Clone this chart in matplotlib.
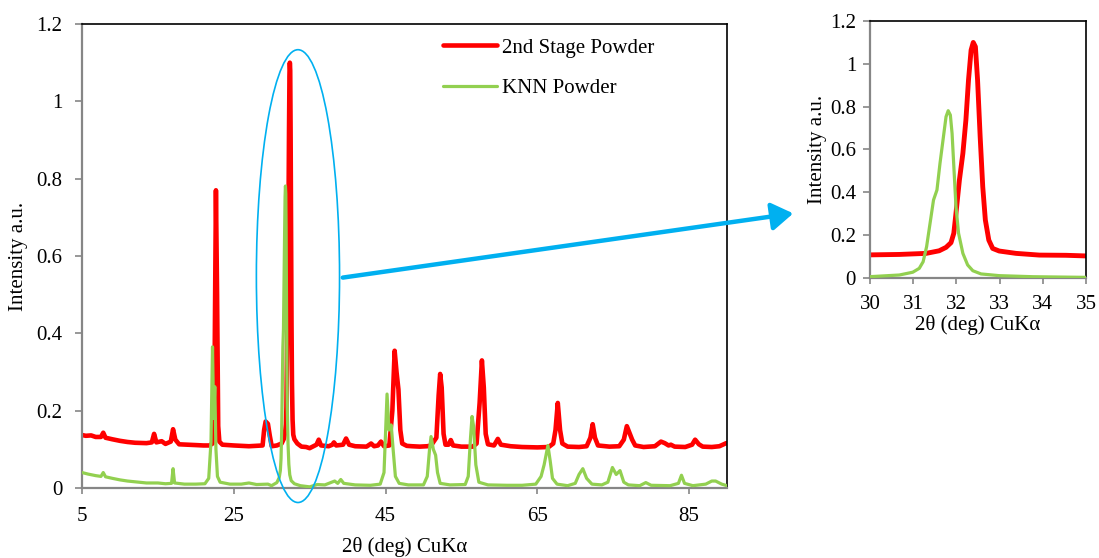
import matplotlib
matplotlib.use("Agg")
import matplotlib.pyplot as plt
from matplotlib.patches import Ellipse, FancyArrowPatch

plt.rcParams["font.family"] = ["Liberation Serif", "DejaVu Serif"]

# XRD traces: 2-theta (deg) and intensity (a.u.)
stage2_tt = [5.0, 5.5, 6.2, 6.8, 7.5, 7.8, 8.1, 9.0, 10.0, 11.0, 12.0, 13.5, 14.2, 14.5, 14.8,
             15.5, 16.0, 16.7, 17.0, 17.3, 17.8, 19.0, 20.0, 21.0, 21.8, 22.2, 22.45, 22.65,
             22.8, 22.95, 23.1, 23.5, 25.0, 27.0, 28.8, 29.0, 29.2, 29.5, 29.75, 30.0, 30.68,
             31.30, 31.60, 31.76, 31.875, 31.94, 31.99, 32.07, 32.15, 32.22, 32.28, 32.34,
             32.39, 32.44, 32.49, 32.55, 32.61, 32.67, 32.75, 32.84, 32.99, 33.38, 33.92,
             34.54, 35.0, 35.5, 35.9, 36.2, 36.5,
             37.5, 38.0, 38.2, 38.5, 39.4, 39.8, 40.2, 41.0, 42.5, 43.1, 43.5, 44.0, 44.4,
             44.8, 45.5, 45.9, 46.2, 46.45, 46.7, 46.95, 47.2, 47.8, 48.5, 49.5, 50.5, 51.0,
             51.7, 52.0, 52.2, 52.4, 52.65, 52.9, 53.3, 53.6, 53.9, 55.0, 56.5, 57.0, 57.4,
             57.7, 57.95, 58.2, 58.5, 59.3, 59.8, 60.2, 61.5, 63.0, 65.0, 66.5, 67.1, 67.4,
             67.7, 68.0, 68.3, 69.0, 70.5, 71.5, 72.0, 72.3, 72.6, 73.0, 74.5, 75.8, 76.4,
             76.8, 77.2, 77.5, 77.9, 79.0, 80.5, 81.3, 81.8, 82.3, 82.6, 83.1, 84.5, 85.4,
             85.8, 86.3, 86.8, 88.0, 89.0, 89.9]
stage2_int = [0.137, 0.135, 0.136, 0.132, 0.132, 0.143, 0.130, 0.126, 0.122, 0.119, 0.117,
              0.116, 0.118, 0.140, 0.118, 0.121, 0.114, 0.120, 0.152, 0.125, 0.113, 0.112,
              0.111, 0.110, 0.110, 0.115, 0.250, 0.770, 0.500, 0.160, 0.120, 0.112, 0.110,
              0.108, 0.110, 0.150, 0.172, 0.166, 0.135, 0.108, 0.110,
              0.115, 0.127, 0.143, 0.165, 0.209, 0.302, 0.458, 0.582, 0.738, 0.924, 1.064,
              1.100, 1.080, 0.924, 0.660, 0.426, 0.271, 0.177, 0.138, 0.126, 0.115, 0.107,
              0.106, 0.103, 0.108, 0.112, 0.125, 0.110,
              0.108, 0.112, 0.118, 0.110, 0.112, 0.128, 0.112, 0.108, 0.107, 0.115, 0.108,
              0.110, 0.120, 0.108, 0.110, 0.200, 0.355, 0.300, 0.255, 0.150, 0.115, 0.109,
              0.108, 0.107, 0.108, 0.110, 0.130, 0.240, 0.295, 0.260, 0.140, 0.112, 0.112,
              0.124, 0.110, 0.107, 0.107, 0.115, 0.220, 0.330, 0.260, 0.140, 0.113, 0.110,
              0.127, 0.112, 0.108, 0.106, 0.105, 0.106, 0.115, 0.150, 0.220, 0.150, 0.115,
              0.107, 0.106, 0.108, 0.130, 0.165, 0.130, 0.110, 0.107, 0.108, 0.125, 0.160,
              0.140, 0.125, 0.110, 0.106, 0.108, 0.120, 0.116, 0.110, 0.112, 0.107, 0.106,
              0.112, 0.125, 0.113, 0.107, 0.106, 0.108, 0.116]

knn_tt = [5.0, 5.8, 6.8, 7.5, 7.8, 8.1, 9.0, 10.0, 11.0, 12.0, 13.5, 15.0, 16.0, 16.8, 17.0,
          17.2, 18.5, 20.0, 21.2, 21.7, 22.0, 22.2, 22.35, 22.5, 22.65, 22.85, 23.2, 24.5,
          26.0, 27.0, 28.0, 29.5, 29.98, 30.68, 30.99, 31.14, 31.23, 31.31, 31.39, 31.47,
          31.55, 31.62, 31.70, 31.76, 31.81, 31.86, 31.90, 31.94, 31.99, 32.05, 32.15,
          32.26, 32.38, 32.57, 32.99, 33.77, 35.0, 36.0,
          37.0, 38.3, 38.7, 39.1, 39.5, 41.0, 43.0, 44.3, 44.8, 45.0, 45.2, 45.45, 45.75,
          46.0, 46.3, 46.8, 48.0, 50.0, 50.5, 50.8, 51.0, 51.3, 51.6, 51.85, 52.2, 53.5,
          55.5, 55.9, 56.2, 56.4, 56.6, 56.9, 57.3, 58.5, 61.0, 63.0, 64.8, 65.5, 65.9,
          66.2, 66.4, 66.7, 67.0, 67.6, 69.0, 70.0, 70.5, 71.0, 71.5, 72.2, 73.5, 74.3,
          74.9, 75.4, 75.9, 76.4, 77.0, 78.5, 79.3, 80.0, 82.5, 83.6, 84.0, 84.4, 85.5,
          87.2, 88.0, 88.5, 89.3, 90.0]
knn_int = [0.040, 0.036, 0.032, 0.030, 0.040, 0.029, 0.025, 0.021, 0.018, 0.016, 0.013,
           0.013, 0.011, 0.012, 0.050, 0.013, 0.010, 0.010, 0.011, 0.025, 0.120, 0.365,
           0.180, 0.262, 0.100, 0.030, 0.015, 0.010, 0.010, 0.013, 0.009, 0.010, 0.006,
           0.014, 0.027, 0.045, 0.076, 0.146, 0.255, 0.364, 0.411, 0.535, 0.660, 0.753,
           0.781, 0.761, 0.675, 0.520, 0.333, 0.209, 0.115, 0.061, 0.034, 0.019, 0.011,
           0.006, 0.003, 0.009, 0.008, 0.018, 0.012,
           0.022, 0.012, 0.008, 0.007, 0.010, 0.040, 0.140, 0.243, 0.150, 0.163, 0.100,
           0.030, 0.012, 0.008, 0.008, 0.030, 0.100, 0.133, 0.100, 0.085, 0.040, 0.012,
           0.008, 0.009, 0.030, 0.130, 0.185, 0.160, 0.060, 0.015, 0.008, 0.007, 0.007,
           0.010, 0.030, 0.060, 0.090, 0.110, 0.070, 0.025, 0.010, 0.006, 0.012, 0.035,
           0.050, 0.025, 0.010, 0.008, 0.015, 0.053, 0.035, 0.045, 0.015, 0.008, 0.006,
           0.014, 0.007, 0.006, 0.012, 0.033, 0.012, 0.006, 0.010, 0.018, 0.018, 0.010,
           0.006]

series_labels = ["2nd Stage Powder", "KNN Powder"]
main_xticks = [5, 25, 45, 65, 85]
inset_xticks = [30, 31, 32, 33, 34, 35]
yticks = [0, 0.2, 0.4, 0.6, 0.8, 1.0, 1.2]
ytick_labels = ["0", "0.2", "0.4", "0.6", "0.8", "1", "1.2"]
xlabel = "2\u03b8 (deg) CuK\u03b1"
ylabel = "Intensity a.u."

RED = "#FF0000"
GREEN = "#92D050"
BLUE = "#00B0F0"
GREY = "#868686"

W, H = 1099, 558
fig = plt.figure(figsize=(W / 100, H / 100), dpi=100)


def px_box(left, top, right, bottom):
    return [left / W, 1 - bottom / H, (right - left) / W, (bottom - top) / H]


def style_axes(ax, xticks, fs, ypad, xpad):
    for side in ("left", "bottom"):
        ax.spines[side].set_color(GREY)
        ax.spines[side].set_linewidth(1.6)
    for side in ("top", "right"):
        ax.spines[side].set_color("black")
        ax.spines[side].set_linewidth(1.2)
    ax.set_ylim(0, 1.2)
    ax.set_yticks(yticks)
    ax.set_yticklabels(ytick_labels)
    ax.set_xticks(xticks)
    ax.tick_params(axis="y", direction="out", length=5, width=1.2, color=GREY,
                   labelsize=fs, pad=ypad)
    ax.tick_params(axis="x", direction="out", length=4, width=1.2, color=GREY,
                   labelsize=fs, pad=xpad)


# main pattern
ax = fig.add_axes(px_box(82, 24, 727, 488))
l1, = ax.plot(stage2_tt, stage2_int, color=RED, lw=3.3, solid_joinstyle="round",
              solid_capstyle="round", zorder=2)
l2, = ax.plot(knn_tt, knn_int, color=GREEN, lw=2.3, solid_joinstyle="round",
              solid_capstyle="round", zorder=3)
ax.set_xlim(5, 90)
style_axes(ax, main_xticks, 15, 9, 10)
ax.set_xlabel(xlabel, fontsize=15)
ax.set_ylabel(ylabel, fontsize=15)
ax.xaxis.set_label_coords(0.5, -0.106)
ax.yaxis.set_label_coords(-0.083, 0.5)

ax.legend([l1, l2], series_labels, loc="upper left", frameon=False, fontsize=15,
          handlelength=2.6, handletextpad=0.25, labelspacing=1.0, borderpad=0,
          borderaxespad=0, bbox_to_anchor=(443 / W, 1 - 38 / H),
          bbox_transform=fig.transFigure)

# highlight around the main perovskite reflection
ell = Ellipse((33.46, 0.548), 10.96, 1.171, fill=False, edgecolor=BLUE, lw=1.2,
              clip_on=False, zorder=4)
ax.add_patch(ell)

# zoomed view of the 30-35 deg region
axi = fig.add_axes(px_box(870, 21, 1086, 278))
axi.plot(stage2_tt, stage2_int, color=RED, lw=3.5, solid_joinstyle="round", zorder=2)
axi.plot(knn_tt, knn_int, color=GREEN, lw=2.3, solid_joinstyle="round", zorder=3)
axi.set_xlim(30, 35)
style_axes(axi, inset_xticks, 15, 5, 8)
axi.set_xlabel(xlabel, fontsize=15)
axi.set_ylabel(ylabel, fontsize=15)
axi.xaxis.set_label_coords(0.5, -0.143)
axi.yaxis.set_label_coords(-0.2, 0.5)

arrow = FancyArrowPatch((340 / W, 1 - 278 / H), (796 / W, 1 - 213 / H),
                        transform=fig.transFigure,
                        arrowstyle="-|>,head_length=0.65,head_width=0.42",
                        mutation_scale=20, lw=3.2, color=BLUE, zorder=10)
fig.add_artist(arrow)

fig.savefig("out.png", dpi=100)
